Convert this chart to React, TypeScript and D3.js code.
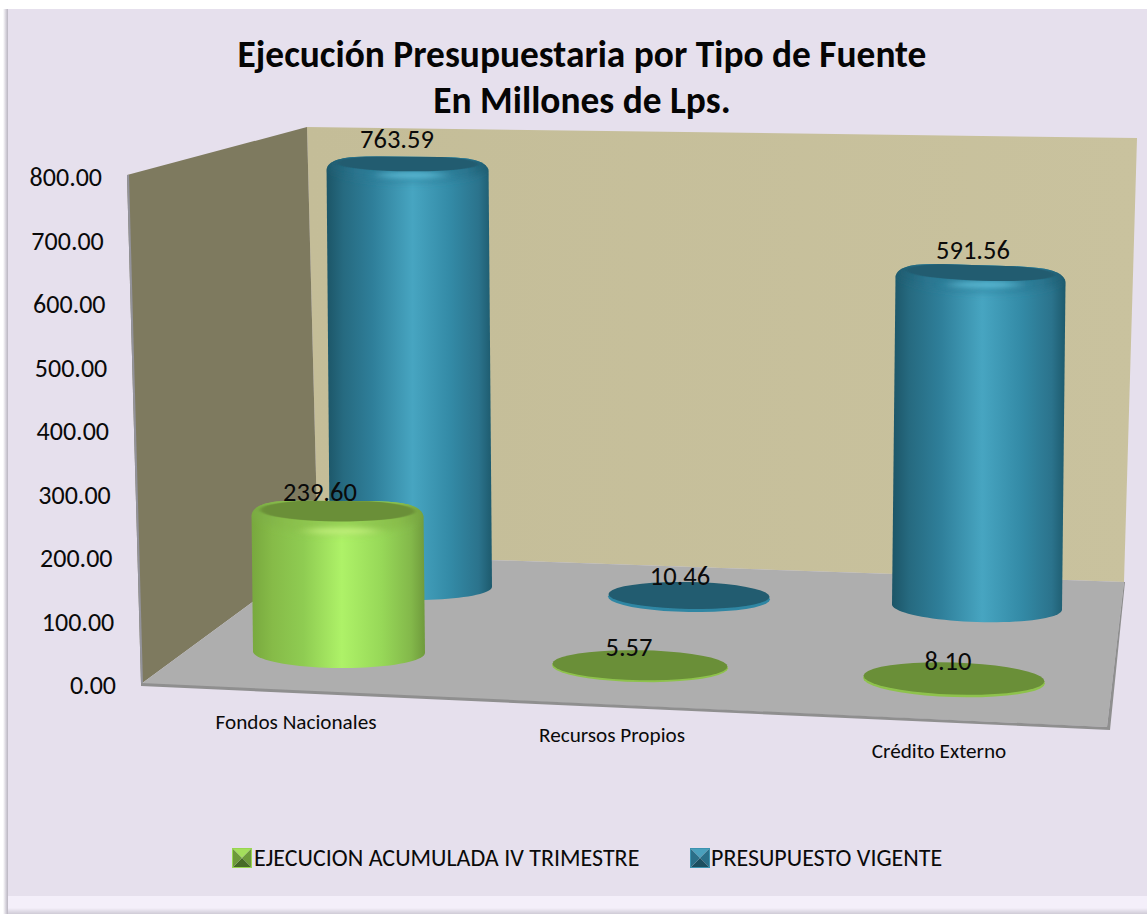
import React from "react";
import * as d3 from "d3";

const categories = ["Fondos Nacionales", "Recursos Propios", "Crédito Externo"];
const seriesNames = ["EJECUCION ACUMULADA IV TRIMESTRE", "PRESUPUESTO VIGENTE"];
const ejecucion = [239.6, 5.57, 8.1];
const presupuesto = [763.59, 10.46, 591.56];
const yTicks = [0, 100, 200, 300, 400, 500, 600, 700, 800];
const titleLines = ["Ejecución Presupuestaria por Tipo de Fuente", "En Millones de Lps."];

const FONT = "Carlito, Calibri, Lato, sans-serif";

// layout of the projected 3D box
const yAxis = d3.scaleLinear().domain([0, 800]).range([685, 177]);
const edgeX = d3.scaleLinear().domain([684, 175]).range([141, 127]);
const cats = [0, 1, 2];
const tiltDeg = d3.scaleLinear().domain([0, 1, 2]).range([0.5, 1.0, 1.8]);
const layouts = [
  {
    values: ejecucion,
    x: d3.scaleLinear().domain(cats).range([339, 640, 954]),
    y: d3.scaleLinear().domain(cats).range([652, 665.5, 679]),
    rx: d3.scaleLinear().domain(cats).range([86, 88, 91]),
    ry: d3.scaleLinear().domain(cats).range([16, 15.5, 16.5]),
    hMax: d3.scaleLinear().domain(cats).range([451, 451, 451]),
    faceRy: 0.64,
    faceRx: 0.9,
    glowDy: 14,
    bevel: 1.45,
    grad: "gGreen",
    top: "#6a8f38",
    edge: "#8ec24c",
    glow: "#d6ff8e",
    labels: [[320, 491], [629, 646], [948, 660]],
  },
  {
    values: presupuesto,
    x: d3.scaleLinear().domain(cats).range([411, 689, 977]),
    y: d3.scaleLinear().domain(cats).range([586, 596, 607]),
    rx: d3.scaleLinear().domain(cats).range([81, 81, 85]),
    ry: d3.scaleLinear().domain(cats).range([14, 14, 15]),
    hMax: d3.scaleLinear().domain(cats).range([435, 438, 442]),
    faceRy: 0.52,
    faceRx: 0.88,
    glowDy: 4.5,
    bevel: 1.15,
    grad: "gBlue",
    top: "#225c6f",
    edge: "#2f86a3",
    glow: "#6fd0ea",
    labels: [[397, 138], [680, 575], [973, 249]],
  },
];
const catLabels = [[296, 721], [612, 734], [939, 750]];

type Pt = [number, number];
const toLine = d3.line<Pt>();

function arc(cx: number, cy: number, rx: number, ry: number, tilt: number, a0: number, a1: number): Pt[] {
  const t = (tilt * Math.PI) / 180;
  return d3.range(0, 41).map((i) => {
    const a = a0 + ((a1 - a0) * i) / 40;
    const ex = rx * Math.cos(a);
    const ey = ry * Math.sin(a);
    return [cx + ex * Math.cos(t) - ey * Math.sin(t), cy + ex * Math.sin(t) + ey * Math.cos(t)] as Pt;
  });
}

function Cylinder({ s, i }: { s: (typeof layouts)[number]; i: number }) {
  const v = s.values[i];
  const cx = s.x(i);
  const cy = s.y(i);
  const rx = s.rx(i);
  const ry = s.ry(i);
  const tilt = tiltDeg(i);
  const h = d3.scaleLinear().domain([0, 800]).range([0, s.hMax(i)])(v);
  const PI = Math.PI;

  if (h < 20) {
    // flat disc: thin rim below a dark top
    const rim = toLine(arc(cx, cy + h * 0.35, rx, ry, tilt, 0, 2 * PI))! + "Z";
    const face = toLine(arc(cx, cy - h * 0.1, rx - 0.5, ry - 0.5, tilt, 0, 2 * PI))! + "Z";
    return (
      <g>
        <path d={rim} fill={s.edge} />
        <path d={face} fill={s.top} filter="url(#soft05)" />
      </g>
    );
  }

  const tx = cx + (cx - 657) * 3.35e-5 * h;
  const ty = cy - h;
  const slope = Math.tan((tilt * PI) / 180);

  // lower arc of the base (left → right through the bottom)
  const lower: Pt[] = d3.range(0, 41).map((k) => {
    const a = PI - (PI * k) / 40;
    const ex = rx * Math.cos(a);
    return [cx + ex, cy + ry * Math.sin(a) + ex * slope] as Pt;
  });
  // rounded shoulder (right → left over the top)
  const shoulder: Pt[] = d3.range(0, 41).map((k) => {
    const a = -(PI * k) / 40;
    const c = Math.cos(a);
    const ex = Math.sign(c) * Math.pow(Math.abs(c), 0.36) * rx;
    const ey = Math.sin(a) * ry;
    return [tx + ex, ty + ey + ex * slope] as Pt;
  });
  const sil = toLine([...lower, ...shoulder])! + "Z";
  const fRy = ry * s.faceRy;
  const shade = toLine(arc(tx, ty - ry * 0.35, rx * 1.02, ry * s.bevel, tilt, 0, 2 * PI))! + "Z";
  const face = toLine(arc(tx, ty - ry + fRy - 0.6, rx * s.faceRx, fRy + 0.6, tilt, 0, 2 * PI))! + "Z";
  const gid = `clip-${s.grad}-${i}`;
  return (
    <g>
      <clipPath id={gid}>
        <path d={sil} />
      </clipPath>
      <path d={sil} fill={`url(#${s.grad})`} />
      <g clipPath={`url(#${gid})`}>
        <path d={shade} fill={`url(#${s.grad}Bevel)`} filter="url(#soft3)" />
        <ellipse cx={tx + 4} cy={ty + s.glowDy} rx={rx * 0.42} ry={3.5} fill={s.glow} opacity={0.6} filter="url(#soft)" />
        <path d={face} fill={s.top} filter="url(#soft1)" />
      </g>
    </g>
  );
}

function Swatch({ x, y, size, colors }: { x: number; y: number; size: number; colors: string[] }) {
  const m = size * 0.5;
  const corners: Pt[] = [[x, y], [x + size, y], [x + size, y + size], [x, y + size]];
  const c: Pt = [x + m, y + m];
  return (
    <g>
      {corners.map((p, i) => (
        <path key={i} d={toLine([p, corners[(i + 1) % 4], c])! + "Z"} fill={colors[i]} />
      ))}
      <rect x={x + 0.5} y={y + 0.5} width={size - 1} height={size - 1} fill="none" stroke={colors[4]} strokeWidth={1} />
    </g>
  );
}

export default function App() {
  const tickSize = 26;
  const valueSize = 26.5;
  return (
    <svg width={1147} height={914} style={{ position: "absolute", left: 0, top: 0, display: "block" }} fontFamily={FONT}>
      <defs>
        <linearGradient id="gBlue" x1="0" x2="1" y1="0" y2="0">
          <stop offset="0" stopColor="#1c5567" />
          <stop offset="0.1" stopColor="#266a80" />
          <stop offset="0.28" stopColor="#2f7f9a" />
          <stop offset="0.52" stopColor="#47a5c1" />
          <stop offset="0.75" stopColor="#338aa6" />
          <stop offset="0.92" stopColor="#2b738c" />
          <stop offset="1" stopColor="#1d5a6d" />
        </linearGradient>
        <linearGradient id="gGreen" x1="0" x2="1" y1="0" y2="0">
          <stop offset="0" stopColor="#78a83e" />
          <stop offset="0.12" stopColor="#86bb48" />
          <stop offset="0.3" stopColor="#8fcc52" />
          <stop offset="0.52" stopColor="#aef268" />
          <stop offset="0.75" stopColor="#97d858" />
          <stop offset="0.92" stopColor="#83b84a" />
          <stop offset="1" stopColor="#6f9a3c" />
        </linearGradient>
        <linearGradient id="gBlueBevel" x1="0" x2="1" y1="0" y2="0">
          <stop offset="0" stopColor="#1d596c" />
          <stop offset="0.2" stopColor="#2a7690" />
          <stop offset="0.55" stopColor="#328ca8" />
          <stop offset="0.85" stopColor="#2a7690" />
          <stop offset="1" stopColor="#1d596c" />
        </linearGradient>
        <linearGradient id="gGreenBevel" x1="0" x2="1" y1="0" y2="0">
          <stop offset="0" stopColor="#79a942" />
          <stop offset="0.2" stopColor="#88bd4b" />
          <stop offset="0.55" stopColor="#98d457" />
          <stop offset="0.85" stopColor="#88bd4b" />
          <stop offset="1" stopColor="#74a03e" />
        </linearGradient>
        <linearGradient id="wall" x1="0" x2="1" y1="0" y2="0">
          <stop offset="0" stopColor="#c4bd98" />
          <stop offset="1" stopColor="#c9c29e" />
        </linearGradient>
        <linearGradient id="shadowL" x1="0" x2="1" y1="0" y2="0">
          <stop offset="0" stopColor="#ffffff" />
          <stop offset="0.6" stopColor="#d4d0da" />
          <stop offset="1" stopColor="#b9b5c0" />
        </linearGradient>
        <linearGradient id="shadowB" x1="0" x2="0" y1="0" y2="1">
          <stop offset="0" stopColor="#f4effa" />
          <stop offset="1" stopColor="#cfcbd6" />
        </linearGradient>
        <filter id="soft" x="-50%" y="-300%" width="200%" height="700%">
          <feGaussianBlur stdDeviation="8 2.6" />
        </filter>
        <filter id="soft3" x="-10%" y="-50%" width="120%" height="200%">
          <feGaussianBlur stdDeviation="2 3.5" />
        </filter>
        <filter id="soft1" x="-5%" y="-30%" width="110%" height="160%">
          <feGaussianBlur stdDeviation="2 0.7" />
        </filter>
        <filter id="soft05" x="-5%" y="-20%" width="110%" height="140%">
          <feGaussianBlur stdDeviation="0.5" />
        </filter>
      </defs>

      {/* page panel */}
      <rect width={1147} height={914} fill="#ffffff" />
      <rect x={3} y={9} width={5} height={905} fill="url(#shadowL)" />
      <rect x={8} y={9} width={1139} height={887} fill="#e6e0ed" />
      <rect x={8} y={896} width={1139} height={12} fill="#f4effa" />
      <rect x={8} y={908} width={1139} height={6} fill="url(#shadowB)" />

      {/* title */}
      {titleLines.map((t, i) => (
        <text key={t} x={582} y={67 + i * 46} textAnchor="middle" fontSize={37.4} fontWeight={700} fill="#050505">
          {t}
        </text>
      ))}

      {/* walls and floor */}
      <path d={toLine([[307, 127], [1137, 138], [1124, 582], [318, 554]])! + "Z"} fill="url(#wall)" />
      <path d={toLine([[127, 175], [307, 127], [318, 554], [141, 684]])! + "Z"} fill="#7e7a5f" />
      <path d={toLine([[127, 175], [129, 175], [143, 684], [141, 684]])! + "Z"} fill="#93939b" />
      <path d={toLine([[141, 684], [318, 554], [1124, 582], [1107, 727]])! + "Z"} fill="#aeaeae" />
      <path d={toLine([[141, 683], [1107, 727], [1124, 582], [1125, 582], [1110, 730], [141, 686]])! + "Z"} fill="#8f8f8f" />

      {/* bars: rear series first */}
      {[1, 0].map((si) =>
        cats.map((i) => <Cylinder key={`${si}-${i}`} s={layouts[si]} i={i} />)
      )}

      {/* value labels */}
      {layouts.map((s) =>
        s.values.map((v, i) => (
          <text key={`${s.grad}-${i}`} x={s.labels[i][0]} y={s.labels[i][1]} dy="0.36em" textAnchor="middle" fontSize={valueSize} fill="#0a0a0a">
            {d3.format(".2f")(v)}
          </text>
        ))
      )}

      {/* y axis */}
      {yTicks.map((t) => (
        <text key={t} x={edgeX(yAxis(t)) - 25} y={yAxis(t)} dy="0.36em" textAnchor="end" fontSize={tickSize} fill="#0a0a0a">
          {d3.format(".2f")(t)}
        </text>
      ))}

      {/* category labels */}
      {categories.map((c, i) => (
        <text key={c} x={catLabels[i][0]} y={catLabels[i][1]} dy="0.36em" textAnchor="middle" fontSize={21.2} fill="#0a0a0a">
          {c}
        </text>
      ))}

      {/* legend */}
      <Swatch x={232} y={848} size={20} colors={["#a4de5c", "#6d9a3a", "#466a26", "#6d9a3a", "#98d650"]} />
      <text x={254} y={857} dy="0.36em" fontSize={24} fill="#0a0a0a">{seriesNames[0]}</text>
      <Swatch x={690} y={848} size={20} colors={["#4aa0bc", "#2a6f88", "#1c4f60", "#2a6f88", "#3c93b0"]} />
      <text x={711} y={857} dy="0.36em" fontSize={24} fill="#0a0a0a">{seriesNames[1]}</text>
    </svg>
  );
}
